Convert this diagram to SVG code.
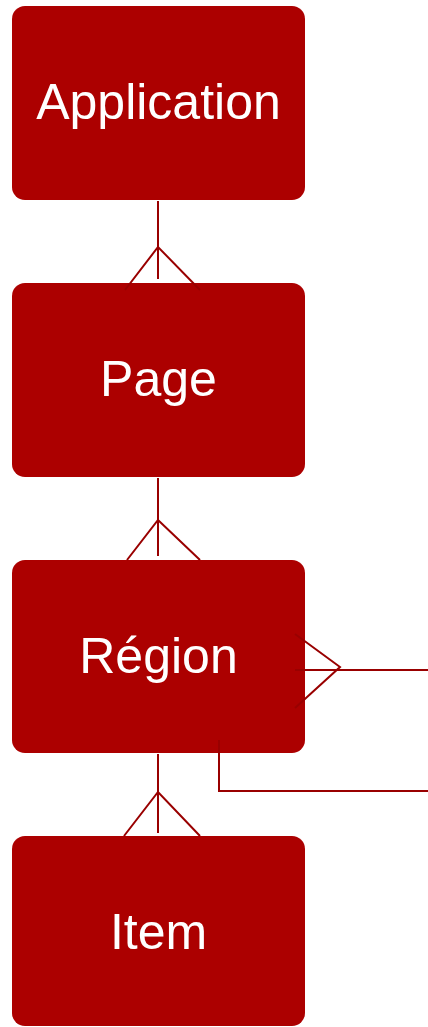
<svg xmlns="http://www.w3.org/2000/svg" width="428" height="1027" viewBox="0 0 428 1027">
<style>
.box{fill:#AC0000;}
.lbl{fill:#FFFFFF;font-family:"Liberation Sans",Arial,sans-serif;font-size:50px;text-anchor:middle;}
.ln{fill:none;stroke:#990000;stroke-width:2;}
</style>
<g id="node-application"><rect class="box" x="12" y="6" width="293" height="194" rx="13"/><text class="lbl" x="158.5" y="119">Application</text></g>
<g id="node-page"><rect class="box" x="12" y="283" width="293" height="194" rx="13"/><text class="lbl" x="158.5" y="396">Page</text></g>
<g id="node-region"><rect class="box" x="12" y="560" width="293" height="193" rx="13"/><text class="lbl" x="158.5" y="673">Région</text></g>
<g id="node-item"><rect class="box" x="12" y="836" width="293" height="190" rx="13"/><text class="lbl" x="158.5" y="949">Item</text></g>
<g id="connectors">
<path class="ln" d="M158,201 V279 M125,290 L158,247 L200,290"/>
<path class="ln" d="M158,478 V556 M127,560 L158,520 L200,560"/>
<path class="ln" d="M158,754 V833 M124,836 L158,792 L200,836"/>
<path class="ln" d="M295,634 L340,667 L295,708 M295,670 H428"/>
<path class="ln" d="M219,740 V791 H428"/>
</g>
</svg>
